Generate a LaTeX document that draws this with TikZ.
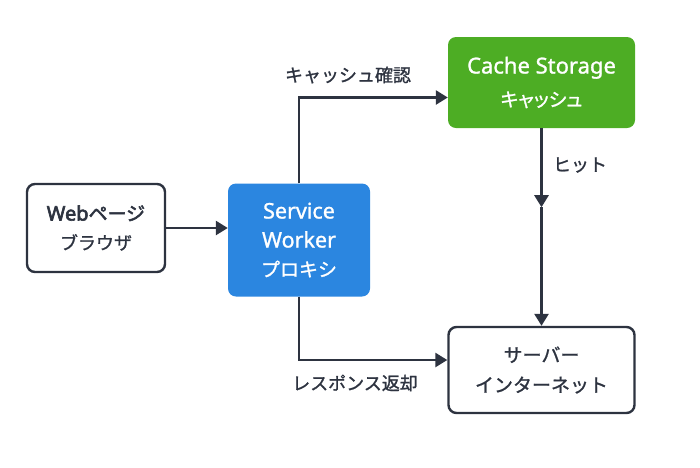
\documentclass[tikz,border=0pt]{standalone}
\usepackage{fontspec}
\setmainfont{Noto Sans CJK JP}[FakeBold=1.2]
\newfontfamily\latinfont{Noto Sans}[FakeBold=1.2]
\newfontfamily\latinbold{Noto Sans}[FakeBold=3]
\newfontfamily\jpbold{Noto Sans CJK JP}[FakeBold=2.6]
\newfontfamily\jpprop{Noto Sans CJK JP}[RawFeature=+palt, FakeBold=1.2]
\usepackage{tikz}
\usetikzlibrary{arrows.meta, positioning, calc}

\definecolor{lineDark}{HTML}{2D3340}
\definecolor{swBlue}{HTML}{2B86E0}
\definecolor{cacheGreen}{HTML}{4DAD24}

\begin{document}
\begin{tikzpicture}[
    x=1pt, y=-1pt,
    % Styles
    plainbox/.style={draw=lineDark, line width=2.4pt, rounded corners=8pt, fill=white, text=lineDark, align=center, font=\fontsize{18}{29}\selectfont, inner sep=0pt},
    colorbox/.style={rounded corners=8pt, text=white, align=center, font=\fontsize{19}{29}\selectfont, inner sep=0pt},
    flow/.style={draw=lineDark, line width=2.6pt, -{Triangle[length=12pt, width=14pt]}},
    flowlabel/.style={text=lineDark, font=\fontsize{18}{20}\selectfont, inner sep=2pt}
]
    \useasboundingbox (0,0) rectangle (700,467);

    % Browser
    \node[plainbox, minimum width=138pt, minimum height=88pt] (browser) at (96,228) {{\fontsize{20}{29}\selectfont\latinbold Web}{\fontsize{19}{29}\selectfont\jpbold ページ}\\ブラウザ};

    % Service Worker
    \node[colorbox, fill=swBlue, minimum width=142pt, minimum height=113pt] (worker) at (299,240) {{\fontsize{21.5}{29}\selectfont\latinfont Service}\\{\fontsize{21.5}{29}\selectfont\latinfont Worker}\\プロキシ};

    % Cache Storage
    \node[colorbox, fill=cacheGreen, minimum width=187pt, minimum height=91pt, font=\fontsize{19}{33}\selectfont] (cache) at (541.5,82.5) {{\fontsize{22}{33}\selectfont\latinfont Cache Storage}\\{\jpprop キャッシュ}};

    % Server
    \node[plainbox, minimum width=186pt, minimum height=86pt, font=\fontsize{19}{30}\selectfont] (server) at (541.5,370) {サーバー\\インターネット};

    % Arrows
    \draw[flow] (browser.east) -- (browser.east -| worker.west);
    \draw[flow] (worker.north) |- ([yshift=-15pt]cache.west) coordinate (cacheIn);
    \draw[flow] (worker.south) |- ([yshift=10pt]server.west) coordinate (serverIn);
    \coordinate (hitMid) at ($(cache.south)!0.4!(server.north)$);
    \draw[flow] (cache.south) -- (hitMid);
    \draw[flow] (hitMid) -- (server.north);

    % Labels
    \node[flowlabel] (checkLabel) at (348,75) {キャッシュ確認};
    \node[flowlabel] (hitLabel) at (580,165) {ヒット};
    \node[flowlabel] (replyLabel) at (355,383) {レスポンス返却};
\end{tikzpicture}
\end{document}
